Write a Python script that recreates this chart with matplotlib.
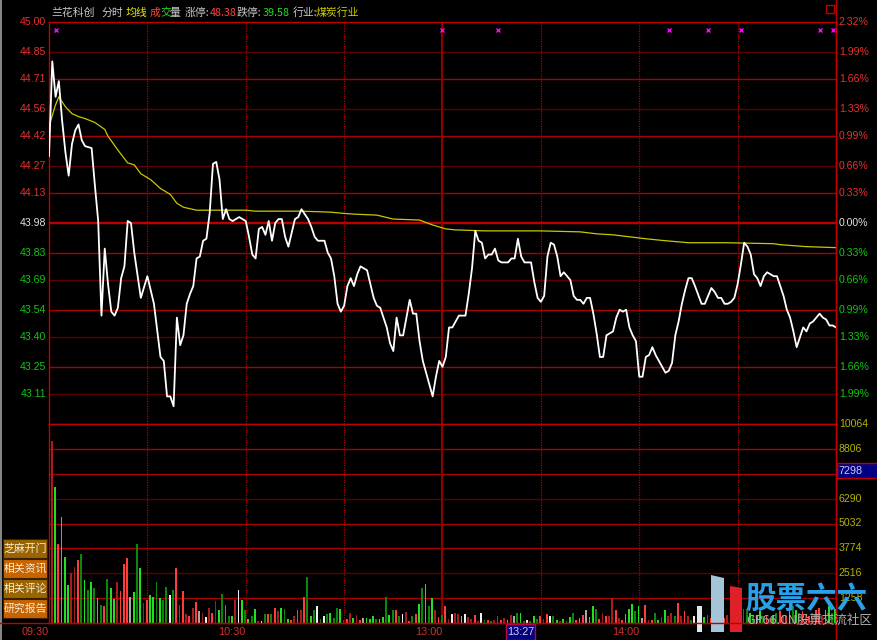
import matplotlib
matplotlib.use("Agg")
import matplotlib.pyplot as plt
from matplotlib.patches import Rectangle, Polygon
from matplotlib.lines import Line2D
from matplotlib.transforms import blended_transform_factory as blend

plt.rcParams['font.family'] = ['Liberation Sans', 'DejaVu Sans']
CJK = ['Noto Sans CJK SC', 'DejaVu Sans']

# ---- data ----
stock_name = "兰花科创"
prev_close = 43.98
limit_up = "48.38"
limit_down = "39.58"
industry = "煤炭行业"

price_min = [0, 1, 2, 3, 4, 5, 6, 7, 8, 9,
             10, 11, 13, 14, 15, 16, 17, 18, 19, 20,
             21, 22, 23, 24, 25, 26, 28, 30, 32, 34,
             35, 36, 37, 38, 39, 40, 41, 42, 43, 44,
             45, 46, 47, 48, 49, 50, 51, 52, 53, 54,
             55, 56, 58, 60, 61, 62, 63, 64, 65, 66,
             67, 68, 69, 70, 71, 72, 73, 74, 75, 76,
             77, 79, 80, 81, 82, 84, 85, 86, 87, 88,
             89, 90, 91, 92, 93, 94, 95, 97, 98, 99,
             100, 101, 102, 103, 104, 105, 106, 107, 108, 110,
             111, 112, 113, 114, 116, 117, 118, 119, 120, 121,
             122, 123, 124, 125, 127, 128, 129, 130, 131, 132,
             133, 134, 135, 136, 137, 138, 140, 141, 142, 143,
             144, 145, 147, 148, 149, 150, 151, 152, 153, 154,
             155, 156, 157, 159, 160, 161, 162, 163, 164, 165,
             166, 167, 168, 169, 170, 172, 173, 174, 175, 176,
             177, 178, 179, 180, 181, 182, 183, 184, 185, 187,
             188, 189, 190, 191, 192, 193, 194, 195, 196, 197,
             199, 200, 201, 202, 203, 204, 205, 206, 207, 208,
             209, 210, 211, 212, 213, 214, 215, 216, 217, 218,
             219, 221, 222, 223, 224, 225, 226, 227, 228, 229,
             230, 231, 232, 233, 235, 236, 237, 238, 239, 240]
price = [44.32, 44.80, 44.62, 44.70, 44.50, 44.34, 44.22, 44.38, 44.45, 44.48,
         44.40, 44.37, 44.36, 44.17, 43.99, 43.51, 43.85, 43.67, 43.53, 43.51,
         43.55, 43.70, 43.76, 43.99, 43.98, 43.83, 43.60, 43.71, 43.57, 43.30,
         43.28, 43.10, 43.10, 43.05, 43.50, 43.36, 43.41, 43.57, 43.62, 43.66,
         43.80, 43.81, 43.89, 43.90, 44.03, 44.28, 44.29, 44.20, 44.00, 44.05,
         44.00, 43.99, 44.01, 43.99, 43.91, 43.82, 43.80, 43.95, 43.96, 43.92,
         43.99, 43.89, 43.98, 44.00, 44.00, 43.91, 43.86, 43.93, 44.00, 44.01,
         44.05, 44.00, 43.96, 43.91, 43.89, 43.89, 43.83, 43.80, 43.71, 43.57,
         43.53, 43.56, 43.66, 43.70, 43.66, 43.72, 43.76, 43.74, 43.67, 43.60,
         43.56, 43.55, 43.50, 43.45, 43.37, 43.33, 43.50, 43.41, 43.41, 43.59,
         43.52, 43.52, 43.38, 43.28, 43.16, 43.10, 43.20, 43.28, 43.25, 43.30,
         43.45, 43.45, 43.48, 43.51, 43.51, 43.62, 43.75, 43.94, 43.89, 43.88,
         43.80, 43.82, 43.82, 43.85, 43.79, 43.78, 43.78, 43.80, 43.80, 43.90,
         43.81, 43.78, 43.78, 43.68, 43.60, 43.58, 43.61, 43.81, 43.88, 43.87,
         43.81, 43.71, 43.73, 43.69, 43.61, 43.59, 43.59, 43.57, 43.60, 43.60,
         43.52, 43.42, 43.30, 43.30, 43.41, 43.43, 43.50, 43.54, 43.53, 43.54,
         43.45, 43.41, 43.38, 43.20, 43.20, 43.30, 43.31, 43.35, 43.31, 43.25,
         43.22, 43.23, 43.27, 43.41, 43.48, 43.57, 43.64, 43.70, 43.70, 43.66,
         43.57, 43.57, 43.61, 43.65, 43.63, 43.60, 43.60, 43.57, 43.57, 43.58,
         43.60, 43.67, 43.77, 43.88, 43.86, 43.82, 43.72, 43.70, 43.66, 43.71,
         43.73, 43.71, 43.71, 43.66, 43.61, 43.54, 43.50, 43.43, 43.35, 43.40,
         43.45, 43.43, 43.47, 43.48, 43.52, 43.50, 43.49, 43.46, 43.46, 43.45]

avg_min = [0, 2, 3, 5, 7, 9, 11, 14, 17, 18, 21, 24, 26, 28, 31, 34, 37, 39, 41, 45,
           60, 63, 77, 86, 89, 93, 100, 105, 113, 117, 121, 124, 133, 150, 162, 167,
           172, 177, 182, 188, 195, 206, 221, 223, 231, 240]
avg_price = [44.47, 44.58, 44.62, 44.57, 44.535, 44.52, 44.51, 44.49, 44.455, 44.42,
             44.35, 44.285, 44.275, 44.23, 44.20, 44.155, 44.125, 44.08, 44.06, 44.045,
             44.045, 44.04, 44.04, 44.035, 44.03, 44.025, 44.02, 44.00, 43.995, 43.97,
             43.95, 43.945, 43.94, 43.94, 43.935, 43.925, 43.92, 43.91, 43.90, 43.89,
             43.88, 43.88, 43.875, 43.87, 43.86, 43.855]

# one bar per minute; codes: R up, r up (dim), G down, g down (dim), W flat, w flat (dim)
volume = [9200, 6900, 4000, 5350, 3350, 1930, 2510, 2810, 3180, 3500,
          2180, 1680, 2080, 1760, 1260, 920, 870, 2250, 1760, 1210,
          2080, 1640, 2990, 3300, 1290, 1560, 3990, 2800, 1020, 1170,
          1420, 1310, 2060, 1260, 1170, 1830, 1420, 1670, 2800, 920,
          1640, 470, 370, 740, 1050, 590, 500, 300, 750, 500,
          1090, 670, 1470, 920, 340, 340, 1170, 1670, 1170, 640,
          210, 340, 720, 80, 120, 450, 450, 450, 750, 590,
          750, 700, 200, 170, 370, 640, 670, 1340, 2310, 340,
          640, 870, 210, 340, 470, 500, 250, 750, 720, 170,
          210, 500, 250, 420, 170, 250, 250, 210, 340, 210,
          210, 280, 1340, 420, 640, 670, 370, 470, 550, 120,
          370, 470, 970, 1760, 1980, 870, 1260, 670, 280, 420,
          840, 200, 470, 520, 470, 340, 470, 280, 210, 420,
          120, 520, 170, 170, 120, 170, 370, 170, 250, 170,
          420, 340, 520, 520, 120, 170, 120, 340, 210, 370,
          200, 470, 370, 340, 170, 120, 210, 120, 280, 520,
          170, 250, 420, 640, 280, 840, 700, 200, 500, 340,
          340, 1260, 670, 250, 170, 470, 700, 970, 590, 840,
          250, 920, 170, 170, 500, 170, 300, 670, 340, 500,
          340, 1010, 340, 590, 340, 170, 340, 170, 250, 300,
          420, 250, 340, 200, 300, 250, 420, 340, 500, 600,
          840, 700, 700, 500, 420, 340, 590, 340, 420, 250,
          340, 500, 590, 420, 340, 670, 840, 670, 500, 590,
          420, 340, 500, 670, 750, 420, 670, 840, 500, 700]
vol_dir = ("rGRGGGrrRg" "GgGgGgRgGG" "rRRRwGgGrR" "GGgGggWgRg" "RrRrRwrWrR"
           "rGgRgGrWGg" "GgGrWgRgRr" "GgGRrRrRgG" "gWgWgGggGr" "RrGrRwGGGg"
           "wGgGgRgWrR" "gRGgGgGrRg" "RrWrrwWrrR" "rWgRgrgRrG" "rwgGgWgGgR"
           "rRWgGrGgGg" "RGRwGGgRrR" "rrRrRGGGgG" "wRrRgGgGrr" "gRrRrgWRrG"
           "gRrGgRrGgR" "RggGgGGgRr" "GgRrRGgGrR" "rRrRRrGGgG")

event_min = [2, 120, 137, 189, 201, 211, 235, 239]

price_labels = ["45.00", "44.85", "44.71", "44.56", "44.42", "44.27", "44.13", "43.98",
                "43.83", "43.69", "43.54", "43.40", "43.25", "43.11"]
pct_labels = ["2.32%", "1.99%", "1.66%", "1.33%", "0.99%", "0.66%", "0.33%", "0.00%",
              "0.33%", "0.66%", "0.99%", "1.33%", "1.66%", "1.99%"]
vol_grid = [10064, 8806, 7548, 6290, 5032, 3774, 2516, 1258]
vol_labels = ["10064", "8806", "6290", "5032", "3774", "2516", "1258"]  # 7548 sits under the cursor box
time_labels = ["09:30", "10:30", "13:00", "14:00"]
time_label_min = [0, 60, 120, 180]
buttons = ["芝麻开门", "相关资讯", "相关评论", "研究报告"]
cursor_time = "13:27"
cursor_vol = "7298"

assert len(price_min) == len(price) and len(volume) == len(vol_dir) == 240

# ---- layout (pixels) ----
W, H = 878, 640
L, R, T, MID, BOT = 49, 836, 22, 424, 623


def fx(x):
    return x / W


def fy(y):
    return 1 - y / H


RED = '#c00000'

fig = plt.figure(figsize=(W / 100, H / 100), dpi=100, facecolor='black')
ax = fig.add_axes([fx(L), fy(MID), (R - L) / W, (MID - T) / H], facecolor='black')
axv = fig.add_axes([fx(L), fy(BOT), (R - L) / W, (BOT - MID) / H], facecolor='black')

ticks = [float(s) for s in price_labels]
top = ticks[0]
bottom = 2 * prev_close - top
ax.set_xlim(0, 240)
ax.set_ylim(bottom, top)
axv.set_xlim(0, 240)
axv.set_ylim(0, vol_grid[0])

for a in (ax, axv):
    a.set_xticks([])
    a.set_yticks([])
    for s in a.spines.values():
        s.set_color(RED)
        s.set_linewidth(1.0)

# price grid: odd steps bright, even steps dim, prev close thick
step = (top - prev_close) / 7
for p in ticks[1:]:
    k = round((p - prev_close) / step)
    if k == 0:
        ax.axhline(p, color='#c00000', lw=1.7, zorder=1)
    elif k % 2:
        ax.axhline(p, color='#a80000', lw=1.0, zorder=1)
    else:
        ax.axhline(p, color='#5c0000', lw=1.0, zorder=1)

# volume grid
vstep = vol_grid[-1]
for v in vol_grid[1:]:
    k = round(v / vstep)
    axv.axhline(v, color='#5c0000' if k % 3 == 2 else '#a80000', lw=1.0, zorder=1)

for a in (ax, axv):
    for m in (30, 60, 90, 150, 180, 210):
        a.axvline(m, color='#b00000', lw=0.9, ls=(0, (1, 1)), zorder=1)
    a.axvline(120, color='#900000', lw=1.5, zorder=1)

# lines
ax.plot(avg_min, avg_price, color='#c8c800', lw=0.9, zorder=4)
ax.plot(price_min, price, color='white', lw=1.3, zorder=5)
ax.plot(event_min, [0.98] * len(event_min), ls='none', marker='x', color='#ff00ff',
        ms=3.5, mew=1.0, transform=blend(ax.transData, ax.transAxes), zorder=6)

# volume bars
cmap = {'R': '#ff3c3c', 'r': '#a81c1c', 'G': '#20e020', 'g': '#0a880a',
        'W': '#f0f0f0', 'w': '#a8a8a8'}
axv.bar([i + 0.8 for i in range(len(volume))], volume, width=0.55,
        color=[cmap[c] for c in vol_dir], zorder=3)

# axis labels
tl = blend(ax.transAxes, ax.transData)
for p, lab, pl in zip(ticks, price_labels, pct_labels):
    if p > prev_close + 1e-6:
        c = '#e83030'
    elif p < prev_close - 1e-6:
        c = '#10c810'
    else:
        c = '#e0e0e0'
    ax.text(-3 / (R - L), p, lab, ha='right', va='center', fontsize=7.6, color=c,
            transform=tl, clip_on=False)
    ax.text(1 + 3 / (R - L), p, pl, ha='left', va='center', fontsize=7.6, color=c,
            transform=tl, clip_on=False)

tv = blend(axv.transAxes, axv.transData)
for lab in vol_labels:
    axv.text(1 + 3 / (R - L), float(lab), lab, ha='left', va='center', fontsize=7.6,
             color='#b4b400', transform=tv, clip_on=False)

tt = blend(axv.transData, fig.transFigure)
for m, lab in zip(time_label_min, time_labels):
    axv.text(m, fy(632), lab, ha='right', va='center', fontsize=7.8, color='#d03030',
             transform=tt, clip_on=False)

# frame extras
fig.add_artist(Line2D([fx(1), fx(1)], [0, 1], color='#a0a0a0', lw=1.2))
fig.add_artist(Line2D([fx(R), fx(R)], [0, 1], color=RED, lw=1.0))
fig.add_artist(Line2D([0, fx(R)], [fy(BOT), fy(BOT)], color=RED, lw=1.0))
fig.add_artist(Rectangle((fx(826), fy(13)), 8 / W, 8 / H, fill=False, ec=RED, lw=1.0))

# header
header = [(stock_name, 51, '#c8c8c8'), ("分时", 102, '#c8c8c8'), ("均线", 126, '#f0f000'),
          ("成", 150, '#ff4040'), ("交", 160, '#20e020'), ("量", 170, '#c8c8c8'),
          ("涨停:", 185, '#c8c8c8'), (limit_up, 210, '#ff4040'),
          ("跌停:", 237, '#c8c8c8'), (limit_down, 263, '#20e020'),
          ("行业:", 293, '#c8c8c8'), (industry, 316, '#d0d000')]
for txt, x, c in header:
    fig.text(fx(x), fy(13), txt, ha='left', va='center', fontsize=7.8, color=c, family=CJK)

# side buttons
for i, b in enumerate(buttons):
    y0 = 539 + 20 * i
    fc = '#9a6400' if i % 2 == 0 else '#c86400'
    fig.add_artist(Rectangle((fx(3), fy(y0 + 19)), 44 / W, 19 / H, fc=fc, ec='#3a2000', lw=0.8))
    fig.text(fx(25), fy(y0 + 9.5), b, ha='center', va='center', fontsize=7.8,
             color='#f4ecd8', family=CJK)

# cursor read-outs
fig.add_artist(Rectangle((fx(506), fy(640)), 29 / W, 16 / H, fc='#000080', ec='#c00050', lw=1.0))
fig.text(fx(520.5), fy(632), cursor_time, ha='center', va='center', fontsize=7.8, color='#d0d0e8')
fig.add_artist(Rectangle((fx(837), fy(478)), 41 / W, 15 / H, fc='#000080', ec='#c00000', lw=1.0))
fig.text(fx(839), fy(470.5), cursor_vol, ha='left', va='center', fontsize=7.8, color='#c8c8f0')

# watermark
fig.add_artist(Rectangle((fx(697), fy(632)), 5 / W, 26 / H, fc='#dce8f0', ec='none'))
fig.add_artist(Polygon([(fx(711), fy(632)), (fx(711), fy(575)), (fx(724), fy(578)),
                        (fx(724), fy(632))], closed=True, fc='#a4c4d8', ec='none'))
fig.add_artist(Polygon([(fx(730), fy(632)), (fx(730), fy(586)), (fx(742), fy(588)),
                        (fx(742), fy(632))], closed=True, fc='#e02028', ec='none'))
fig.text(fx(745), fy(599), "股票六六", ha='left', va='center', fontsize=22, color='#2aa0e8',
         family=CJK, weight='bold', zorder=5)
fig.text(fx(746), fy(620), "GP66.CN股票交流社区", ha='left', va='center', fontsize=9,
         color='#b0b0b0', family=CJK, zorder=5)

fig.savefig('out.png', dpi=100, facecolor='black')
